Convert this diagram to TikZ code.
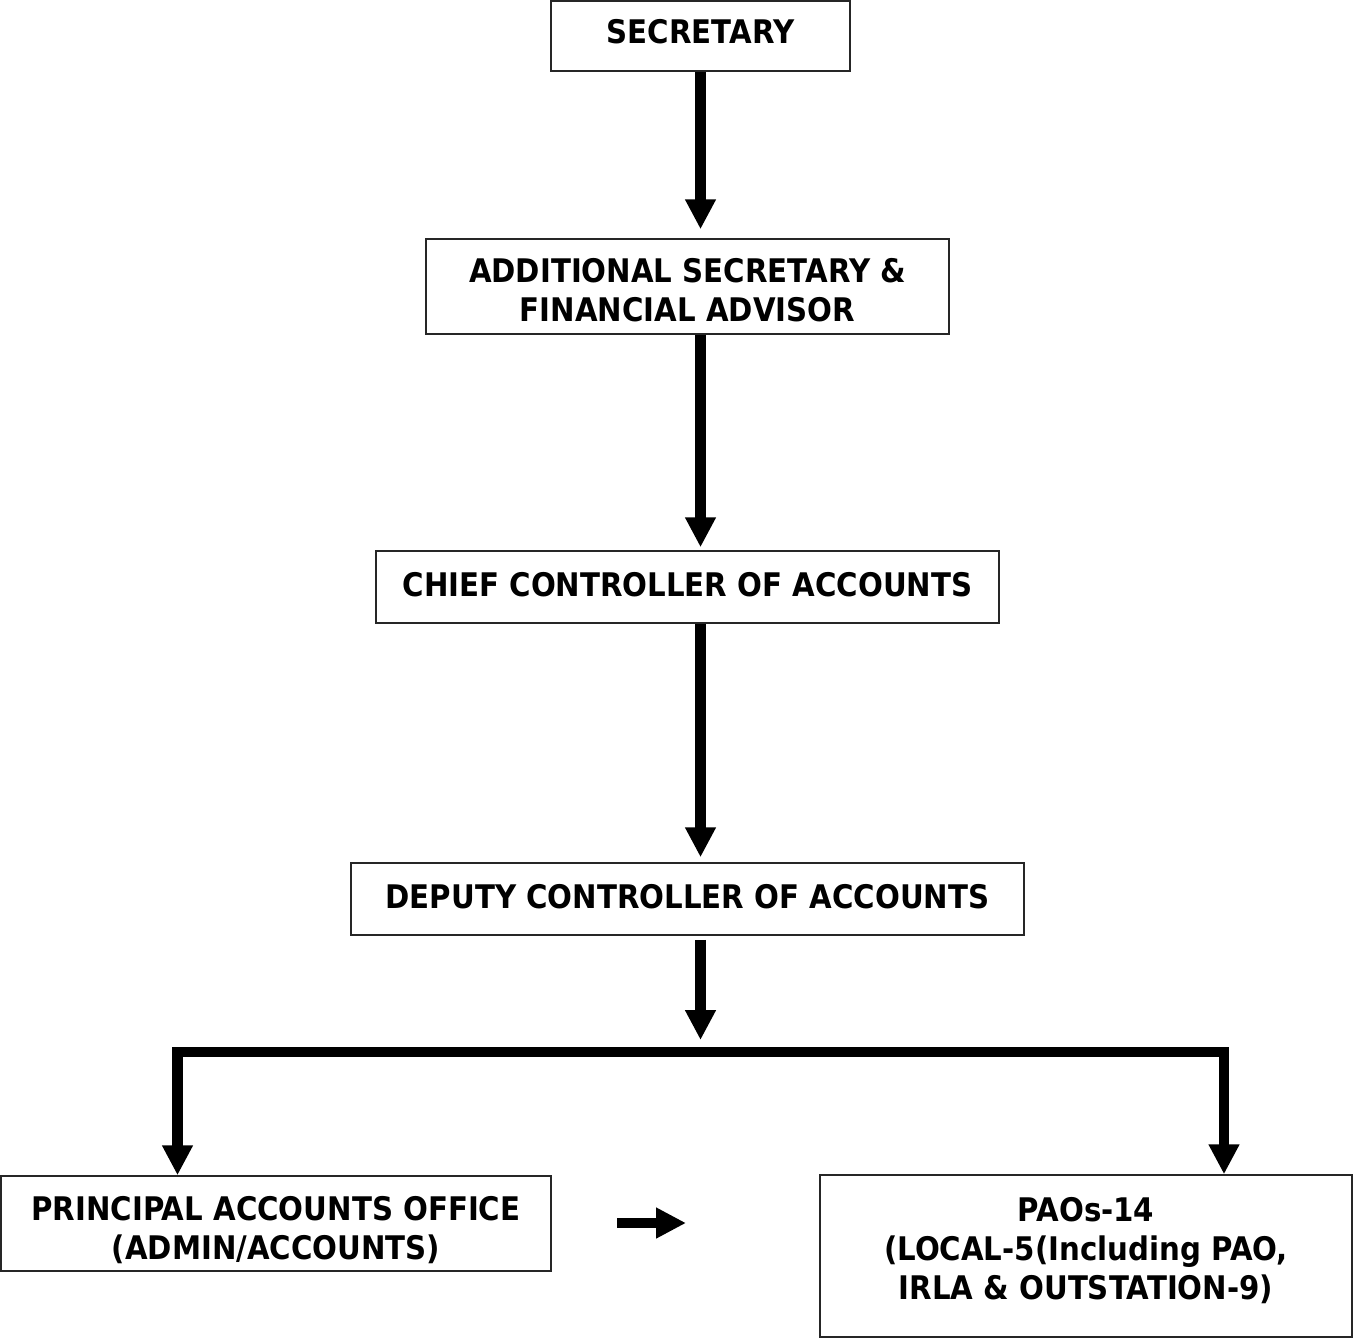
\documentclass[tikz,border=0pt]{standalone}
\usepackage{fontspec}
\setmainfont{DejaVu Sans}[FakeStretch=0.9]
\usetikzlibrary{arrows.meta}
\tikzset{
  box/.style={draw=black!85, line width=1.5pt, align=center, inner sep=0pt,
    font=\fontsize{32.5}{39}\selectfont\bfseries},
  arr/.style={line width=10.5pt, line join=miter, -{Triangle[length=30pt,width=29pt]}},
  twoarr/.style={line width=10.5pt, line join=miter, {Triangle[length=30pt,width=29pt]}-{Triangle[length=30pt,width=29pt]}}
}
\begin{document}
\begin{tikzpicture}[x=1pt,y=-1pt]
\useasboundingbox (0,0) rectangle (1354,1339);
\node[box, minimum width=299pt, minimum height=70pt, text height=14pt, text depth=0pt] (sec) at (700.5,36) {SECRETARY};
\node[box, minimum width=523pt, minimum height=95pt, text height=69pt, text depth=0pt] (add) at (687.5,286.5) {ADDITIONAL SECRETARY \&\\FINANCIAL ADVISOR};
\node[box, minimum width=623pt, minimum height=72pt, text height=18pt, text depth=0pt] (cca) at (687.5,587) {CHIEF CONTROLLER OF ACCOUNTS};
\node[box, minimum width=673pt, minimum height=72pt, text height=18pt, text depth=0pt] (dca) at (687.5,899) {DEPUTY CONTROLLER OF ACCOUNTS};
\node[box, minimum width=550pt, minimum height=95pt, text height=71pt, text depth=0pt] (pao) at (276,1223.5) {PRINCIPAL ACCOUNTS OFFICE\\(ADMIN/ACCOUNTS)};
\node[box, minimum width=532pt, minimum height=162pt, text height=86pt, text depth=0pt] (paos) at (1086,1256) {PAOs-14\\(LOCAL-5(Including PAO,\\IRLA \& OUTSTATION-9)};
\coordinate (barL) at (177.5,1052);
\coordinate (barR) at (1224,1052);
\coordinate (sa1) at (617,1223);
\coordinate (sa2) at (686,1223);
\draw[arr, shorten >=9pt] (sec.south) -- (sec.south |- add.north);
\draw[arr, shorten >=3pt] (add.south -| sec.south) -- (cca.north -| sec.south);
\draw[arr, shorten >=5pt] (cca.south -| sec.south) -- (dca.north -| sec.south);
\draw[arr, shorten <=4pt, shorten >=12pt] (dca.south -| sec.south) -- (barL -| sec.south);
\draw[twoarr] (pao.north -| barL) -- (barL) -- (barR) -- (paos.north -| barR);
\draw[arr] (sa1) -- (sa2);
\end{tikzpicture}
\end{document}
